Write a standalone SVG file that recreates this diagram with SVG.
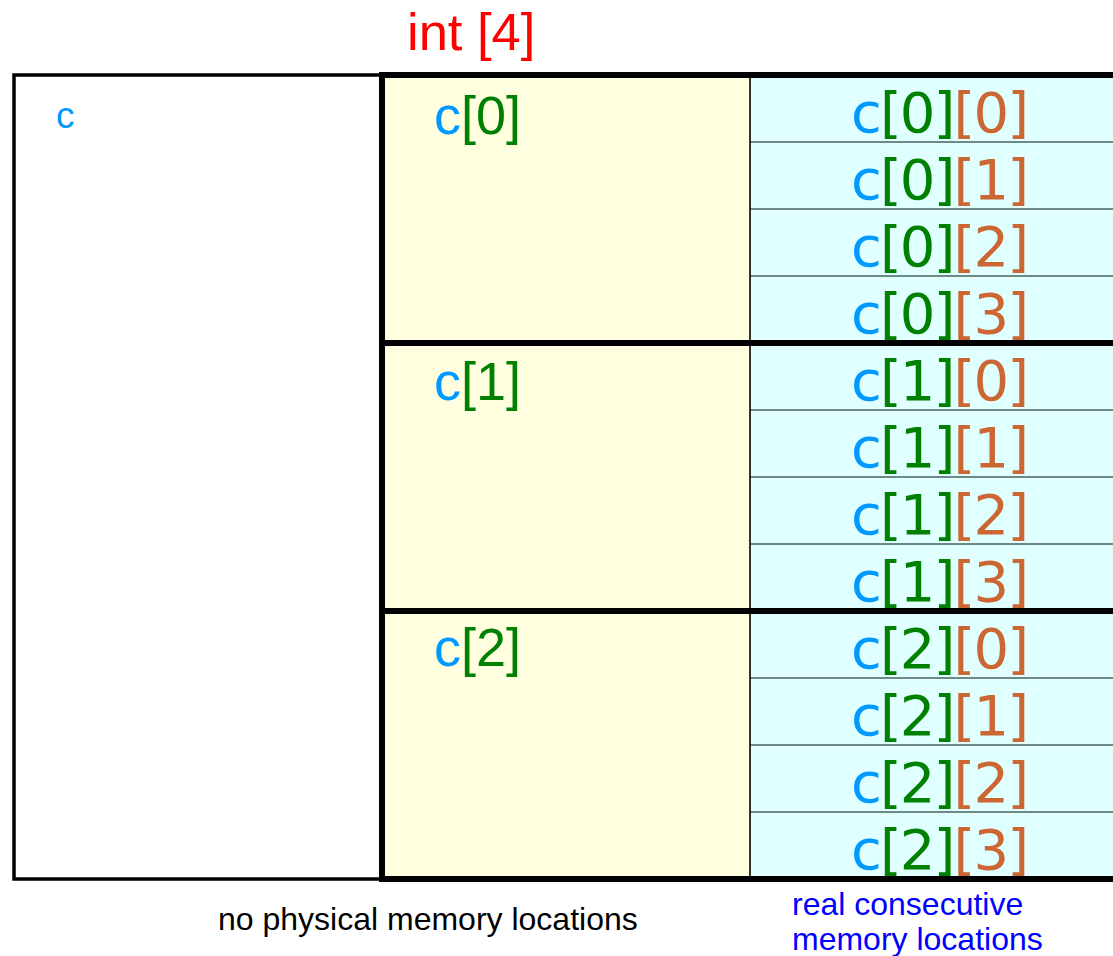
<svg xmlns="http://www.w3.org/2000/svg" width="1113" height="956" viewBox="0 0 1113 956">
<style>
.b{fill:#0099ff}.g{fill:#008000}.o{fill:#cc6633}
.lbl{font-family:"Liberation Sans",Arial,sans-serif}
.cell{font-family:"DejaVu Sans",sans-serif;font-size:56px;text-anchor:middle}
.mid{font-family:"Liberation Sans",Arial,sans-serif;font-size:54px}
.sep{stroke:#4a6262;stroke-width:1.6;fill:none}
.thick{stroke:#000;stroke-width:6;fill:none}
.cy{fill:#e0ffff}
</style>
<rect width="1113" height="956" fill="#ffffff"/>
<text x="407" y="50" class="lbl" font-size="52.5" fill="#ff0000">int [4]</text>
<g id="c">
<rect x="14" y="75" width="368" height="804" fill="#ffffff" stroke="#000" stroke-width="3.5"/>
<text x="56" y="128" class="lbl b" font-size="37">c</text>
</g>
<g id="c0">
<rect x="382" y="75" width="368" height="268" fill="#ffffe0"/>
<text x="434" y="134" class="mid"><tspan class="b">c</tspan><tspan class="g">[0]</tspan></text>
</g>
<g id="c1">
<rect x="382" y="343" width="368" height="268" fill="#ffffe0"/>
<text x="434" y="400" class="mid"><tspan class="b">c</tspan><tspan class="g">[1]</tspan></text>
</g>
<g id="c2">
<rect x="382" y="611" width="368" height="268" fill="#ffffe0"/>
<text x="434" y="666" class="mid"><tspan class="b">c</tspan><tspan class="g">[2]</tspan></text>
</g>
<g id="c00"><rect x="750" y="75" width="370" height="67" class="cy"/><text x="940" y="132" class="cell" textLength="178" lengthAdjust="spacing"><tspan class="b">c</tspan><tspan class="g">[0]</tspan><tspan class="o">[0]</tspan></text></g>
<g id="c01"><rect x="750" y="142" width="370" height="67" class="cy"/><text x="940" y="199" class="cell" textLength="178" lengthAdjust="spacing"><tspan class="b">c</tspan><tspan class="g">[0]</tspan><tspan class="o">[1]</tspan></text></g>
<g id="c02"><rect x="750" y="209" width="370" height="67" class="cy"/><text x="940" y="266" class="cell" textLength="178" lengthAdjust="spacing"><tspan class="b">c</tspan><tspan class="g">[0]</tspan><tspan class="o">[2]</tspan></text></g>
<g id="c03"><rect x="750" y="276" width="370" height="67" class="cy"/><text x="940" y="333" class="cell" textLength="178" lengthAdjust="spacing"><tspan class="b">c</tspan><tspan class="g">[0]</tspan><tspan class="o">[3]</tspan></text></g>
<g id="c10"><rect x="750" y="343" width="370" height="67" class="cy"/><text x="940" y="400" class="cell" textLength="178" lengthAdjust="spacing"><tspan class="b">c</tspan><tspan class="g">[1]</tspan><tspan class="o">[0]</tspan></text></g>
<g id="c11"><rect x="750" y="410" width="370" height="67" class="cy"/><text x="940" y="467" class="cell" textLength="178" lengthAdjust="spacing"><tspan class="b">c</tspan><tspan class="g">[1]</tspan><tspan class="o">[1]</tspan></text></g>
<g id="c12"><rect x="750" y="477" width="370" height="67" class="cy"/><text x="940" y="534" class="cell" textLength="178" lengthAdjust="spacing"><tspan class="b">c</tspan><tspan class="g">[1]</tspan><tspan class="o">[2]</tspan></text></g>
<g id="c13"><rect x="750" y="544" width="370" height="67" class="cy"/><text x="940" y="601" class="cell" textLength="178" lengthAdjust="spacing"><tspan class="b">c</tspan><tspan class="g">[1]</tspan><tspan class="o">[3]</tspan></text></g>
<g id="c20"><rect x="750" y="611" width="370" height="67" class="cy"/><text x="940" y="668" class="cell" textLength="178" lengthAdjust="spacing"><tspan class="b">c</tspan><tspan class="g">[2]</tspan><tspan class="o">[0]</tspan></text></g>
<g id="c21"><rect x="750" y="678" width="370" height="67" class="cy"/><text x="940" y="735" class="cell" textLength="178" lengthAdjust="spacing"><tspan class="b">c</tspan><tspan class="g">[2]</tspan><tspan class="o">[1]</tspan></text></g>
<g id="c22"><rect x="750" y="745" width="370" height="67" class="cy"/><text x="940" y="802" class="cell" textLength="178" lengthAdjust="spacing"><tspan class="b">c</tspan><tspan class="g">[2]</tspan><tspan class="o">[2]</tspan></text></g>
<g id="c23"><rect x="750" y="812" width="370" height="67" class="cy"/><text x="940" y="869" class="cell" textLength="178" lengthAdjust="spacing"><tspan class="b">c</tspan><tspan class="g">[2]</tspan><tspan class="o">[3]</tspan></text></g>
<g id="lines">
<path class="sep" d="M750 142H1113M750 209H1113M750 276H1113M750 410H1113M750 477H1113M750 544H1113M750 678H1113M750 745H1113M750 812H1113"/>
<path d="M750 75V879" stroke="#000" stroke-width="1.6"/>
<path class="thick" d="M382 75H1113M382 343H1113M382 611H1113M382 879H1113M382 72V882"/>
</g>
<text x="218" y="930" class="lbl" font-size="32" fill="#000">no physical memory locations</text>
<text class="lbl" font-size="32" fill="#0000ff"><tspan x="792" y="915">real consecutive</tspan><tspan x="792" y="950">memory locations</tspan></text>
</svg>
